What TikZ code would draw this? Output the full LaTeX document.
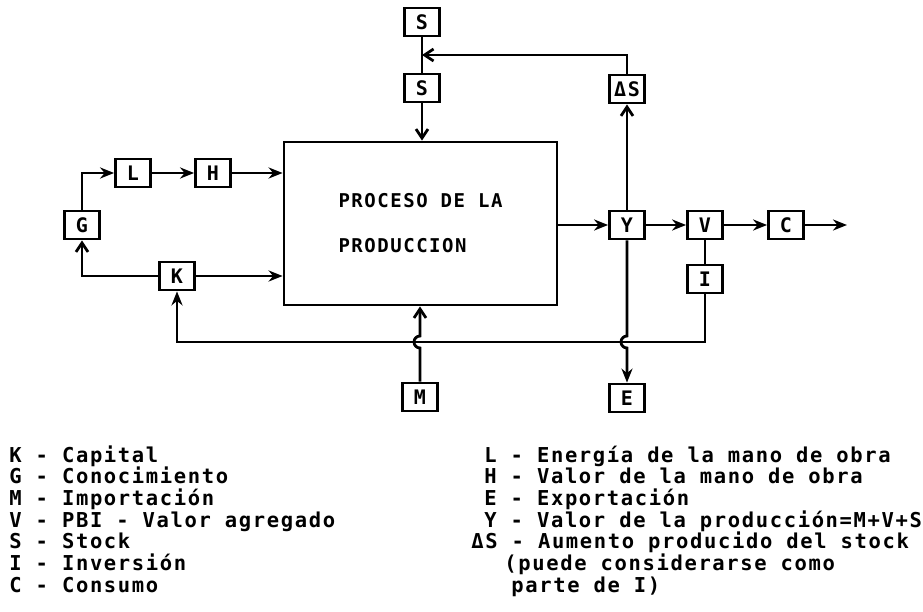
\documentclass[tikz,border=0pt]{standalone}
\usepackage{fontspec}
\newfontfamily\tw[LetterSpace=8]{DejaVu Sans Mono}
\usetikzlibrary{arrows.meta,calc}
\begin{document}
\begin{tikzpicture}[x=1pt,y=-1pt,line width=2.8pt,
  blk/.style={draw,line width=2.8pt,minimum width=35pt,minimum height=28pt,inner sep=0pt,font=\tw\bfseries\fontsize{20}{20}\selectfont},
  fa/.style={-{Stealth[length=14pt,width=11pt]}},
  oa/.style={-{Straight Barb[length=9pt,width=12pt]}},
  leg/.style={anchor=base west,inner sep=0pt,font=\tw\bfseries\fontsize{20.5}{20.5}\selectfont}]
\useasboundingbox[fill=white] (0,0) rectangle (923,612);
% main process
\node[draw,line width=2.8pt,minimum width=273pt,minimum height=163pt,inner sep=0pt,align=left,
  font=\tw\bfseries\fontsize{19}{45}\selectfont] (P) at (420.5,223.5) {PROCESO DE LA\\PRODUCCION};
% blocks
\node[blk] (S1) at (422,22) {S};
\node[blk] (S2) at (422,88) {S};
\node[blk] (L) at (133,173) {L};
\node[blk] (H) at (213,173) {H};
\node[blk] (G) at (82,225) {G};
\node[blk] (K) at (177,276) {K};
\node[blk] (M) at (420,397) {M};
\node[blk] (DS) at (627,89) {ΔS};
\node[blk] (Y) at (627,225) {Y};
\node[blk] (V) at (705,225) {V};
\node[blk] (C) at (786,225) {C};
\node[blk] (I) at (705,279) {I};
\node[blk] (E) at (627,398) {E};
\coordinate (out) at (847,225);
\coordinate (j) at ($(S1.south)!0.5!(S2.north)$);
\coordinate (fb) at (0,342);
% connectors
\draw (S1) -- (S2);
\draw[oa] (DS.north) |- (j);
\draw[oa] (S2.south) -- (S2.south |- P.north);
\draw[fa] (G.north) |- (L.west);
\draw[fa] (L) -- (H);
\draw[fa] (H.east) -- (H.east -| P.west);
\draw[oa] (K.west) -| (G.south);
\draw[fa] (K.east) -- (K.east -| P.west);
\draw[fa] (P.east |- Y.west) -- (Y.west);
\draw[oa] (Y) -- (DS);
\draw[fa] (Y) -- (V);
\draw[fa] (V) -- (C);
\draw[fa] (C) -- (out);
\draw (V) -- (I);
\draw[fa] (I.south) -- (I.south |- fb) -| (K.south);
\coordinate (mh) at (M.north |- fb);
\coordinate (yh) at (Y.south |- fb);
\draw[oa] (M.north) -- ([yshift=-6pt]mh) arc[start angle=270,end angle=90,radius=6pt] -- (M.north |- P.south);
\draw[fa] (Y.south) -- ([yshift=6pt]yh) arc[start angle=90,end angle=270,radius=6pt] -- (E.north);
% legend
\node[leg] (l1) at (8,462) {K - Capital};
\node[leg] (l2) at (8,483.7) {G - Conocimiento};
\node[leg] (l3) at (8,505.4) {M - Importación};
\node[leg] (l4) at (8,527.1) {V - PBI - Valor agregado};
\node[leg] (l5) at (8,548.8) {S - Stock};
\node[leg] (l6) at (8,570.5) {I - Inversión};
\node[leg] (l7) at (8,592.2) {C - Consumo};
\node[leg] (r1) at (483,462) {L - Energía de la mano de obra};
\node[leg] (r2) at (483,483.7) {H - Valor de la mano de obra};
\node[leg] (r3) at (483,505.4) {E - Exportación};
\node[leg] (r4) at (483,527.1) {Y - Valor de la producción=M+V+S};
\node[leg] (r5) at (470,548.8) {ΔS - Aumento producido del stock};
\node[leg] (r6) at (503,570.5) {(puede considerarse como};
\node[leg] (r7) at (510,592.2) {parte de I)};
\end{tikzpicture}
\end{document}
